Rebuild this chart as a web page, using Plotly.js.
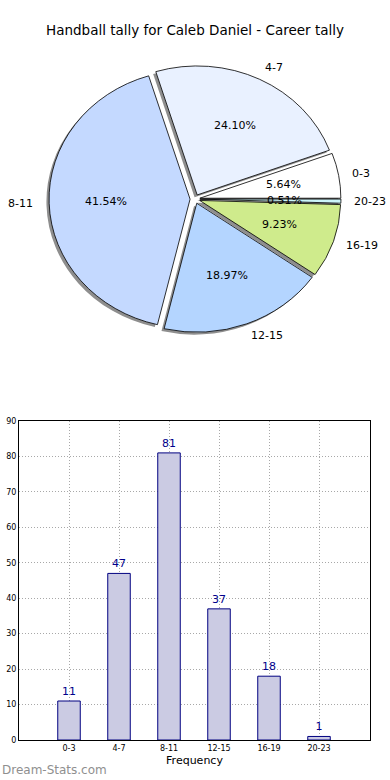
<!DOCTYPE html>
<html><head><meta charset="utf-8">
<script src="https://cdn.plot.ly/plotly-3.0.1.min.js"></script>
<style>html,body{margin:0;padding:0;background:#fff}#chart{width:390px;height:780px}</style>
</head><body><div id="chart"></div>
<script>
const categories = ['0-3', '4-7', '8-11', '12-15', '16-19', '20-23'];
const counts = [11, 47, 81, 37, 18, 1];
const sliceColors = ['#ffffff', '#e9f1ff', '#c4d9ff', '#b4d5ff', '#cfeb8c', '#ccf5fa'];
const explode = 0.035;
const yTickVals = [0, 10, 20, 30, 40, 50, 60, 70, 80, 90];
const titleText = 'Handball tally for Caleb Daniel - Career tally';

const W = 390, H = 780;
const cx = 195, cy = 199, R = 134;
const RX = 141, RY = 129;               // matplotlib pie is slightly elliptical
const boxH = 2 * R * (1 + explode);
const pieDomY = [1 - (cy + boxH / 2) / H, 1 - (cy - boxH / 2) / H];
const sh = 2.5;
const font = 'DejaVu Sans, sans-serif';

const total = counts.reduce((a, b) => a + b, 0);
// Plotly's counterclockwise pies end the first slice at `rotation`; shift so it starts at 3 o'clock
const rot = 90 - counts[0] / total * 360;

const shadow = {
  type: 'pie', values: counts, labels: categories, sort: false,
  direction: 'counterclockwise', rotation: rot, pull: counts.map(() => explode),
  marker: {colors: counts.map(() => '#8e8e8e'), line: {width: 0}},
  textinfo: 'none', hoverinfo: 'skip', showlegend: false,
  domain: {x: [0, 1 - 2 * sh / W], y: [pieDomY[0] - sh / H, pieDomY[1] - sh / H]}
};
const pie = {
  type: 'pie', values: counts, labels: categories, sort: false,
  direction: 'counterclockwise', rotation: rot, pull: counts.map(() => explode),
  marker: {colors: sliceColors, line: {color: '#000', width: 0.8}},
  textinfo: 'none', hoverinfo: 'label+percent', showlegend: false,
  domain: {x: [0, 1], y: pieDomY}
};
const anchor = {type: 'scatter', x: [], y: [], xaxis: 'x2', yaxis: 'y2', showlegend: false, hoverinfo: 'skip'};
const bars = {
  type: 'bar', x: categories, y: counts, width: 0.45,
  marker: {color: '#cbcbe3', line: {color: '#000080', width: 1}},
  text: counts.map(String), textposition: 'outside', cliponaxis: false,
  textfont: {color: '#00008b', size: 11, family: font},
  showlegend: false
};

const annotations = [];
let cum = 0;
counts.forEach((v, i) => {
  const a0 = cum / total * 2 * Math.PI;
  cum += v;
  const a1 = cum / total * 2 * Math.PI;
  const m = (a0 + a1) / 2;
  const c = Math.cos(m), s = Math.sin(m);
  annotations.push({
    xref: 'x2', yref: 'y2', x: (explode + 0.6) * c, y: (explode + 0.6) * s,
    text: (v / total * 100).toFixed(2) + '%', showarrow: false,
    xanchor: 'center', yanchor: 'middle', font: {family: font, size: 11, color: '#000'}
  });
  annotations.push({
    xref: 'x2', yref: 'y2', x: (explode + 1.1) * c, y: (explode + 1.1) * s,
    text: categories[i], showarrow: false, xshift: c >= 0 ? -3 : 0,
    xanchor: c >= 0 ? 'left' : 'right', yanchor: 'middle', font: {family: font, size: 11, color: '#000'}
  });
});
annotations.push({
  xref: 'paper', yref: 'paper', x: 0, y: 1 - 770 / H, xanchor: 'left', yanchor: 'middle',
  text: 'Dream-Stats.com', showarrow: false, font: {family: font, size: 12, color: '#8f8f8f'}
});

const layout = {
  width: W, height: H, margin: {l: 0, r: 0, t: 0, b: 0},
  paper_bgcolor: '#fff', plot_bgcolor: '#fff', showlegend: false,
  font: {family: font, color: '#000'},
  title: {text: titleText, x: 0.5, xanchor: 'center', y: 1 - 30 / H, yanchor: 'middle', font: {family: font, size: 13.5, color: '#000'}},
  xaxis: {
    domain: [19 / W, 370 / W], anchor: 'y', type: 'category', range: [-1, 6.02],
    showline: true, mirror: true, linecolor: '#000', linewidth: 1,
    showgrid: true, gridcolor: '#a8a8a8', griddash: '1px,2px', gridwidth: 1,
    ticks: '', tickfont: {size: 8, family: font, color: '#000'},
    title: {text: 'Frequency', font: {size: 11, family: font, color: '#000'}, standoff: 4},
    fixedrange: true
  },
  yaxis: {
    domain: [1 - 740 / H, 1 - 421 / H], anchor: 'x', range: [0, 90], tickvals: yTickVals,
    showline: true, mirror: true, linecolor: '#000', linewidth: 1, zeroline: false,
    showgrid: true, gridcolor: '#a8a8a8', griddash: '1px,2px', gridwidth: 1,
    ticks: '', tickfont: {size: 8, family: font, color: '#000'}, fixedrange: true
  },
  xaxis2: {domain: [0, 1], anchor: 'y2', range: [-(W / 2) / RX, (W / 2) / RX], visible: false, fixedrange: true},
  yaxis2: {domain: pieDomY, anchor: 'x2', range: [-(boxH / 2) / RY, (boxH / 2) / RY], visible: false, fixedrange: true},
  annotations: annotations
};

Plotly.newPlot('chart', [anchor, bars, shadow, pie], layout, {displayModeBar: false, staticPlot: true}).then(gd => {
  const pl = gd.querySelector('.pielayer');
  if (pl) {
    const sx = RX / R, sy = RY / R;
    pl.setAttribute('transform', `translate(${cx},${cy}) scale(${sx},${sy}) translate(${-cx},${-cy})`);
  }
});
</script></body></html>
